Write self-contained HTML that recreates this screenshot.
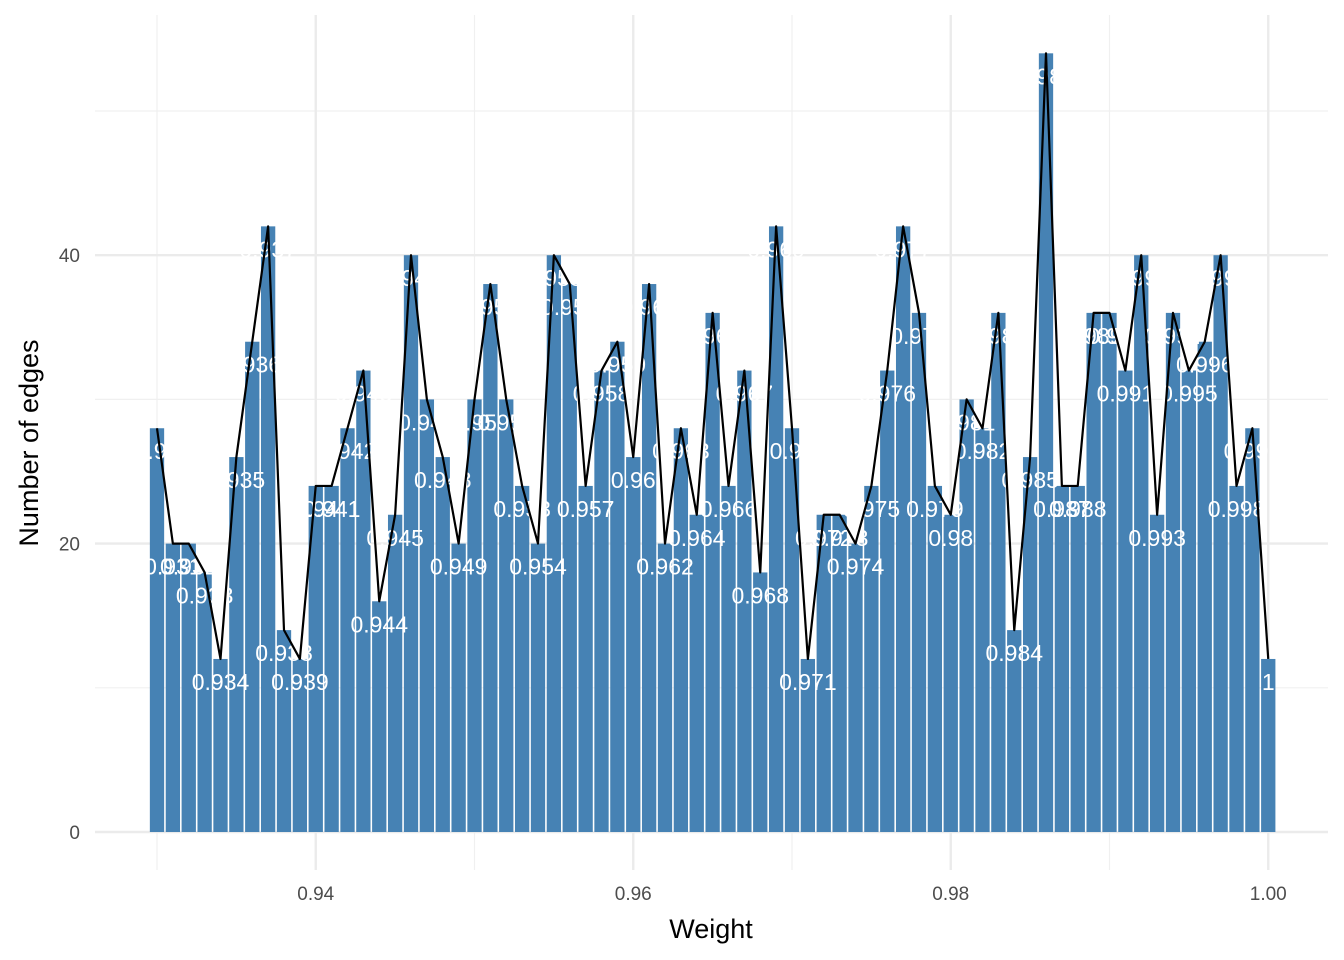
<!DOCTYPE html>
<html><head><meta charset="utf-8"><style>
body{margin:0;background:#fff;}
svg{display:block;font-family:"Liberation Sans","DejaVu Sans",sans-serif;}
</style></head><body>
<svg id="chart" width="1344" height="960" viewBox="0 0 1344 960" xmlns="http://www.w3.org/2000/svg">
<g id="grid"></g>
<g id="bars"></g>
<g id="labels"></g>
<g id="line"></g>
<g id="axes"></g>
<text x="711" y="938" font-size="27" text-anchor="middle" fill="#000">Weight</text>
<text transform="translate(38,443) rotate(-90)" font-size="27" text-anchor="middle" fill="#000">Number of edges</text>
</svg>
<script>
const weights = [];
for (let i = 0; i <= 70; i++) weights.push(+(0.93 + i * 0.001).toFixed(3));
const counts = [28,20,20,18,12,26,34,42,14,12,24,24,28,32,16,22,40,30,26,20,30,38,30,24,20,40,38,24,32,34,26,38,20,28,22,36,24,32,18,42,28,12,22,22,20,24,32,42,36,24,22,30,28,36,14,26,54,24,24,36,36,32,40,22,36,32,34,40,24,28,12];
const xTicks = [0.94,0.96,0.98,1.00];
const xTickLabels = ["0.94","0.96","0.98","1.00"];
const xMinor = [0.93,0.95,0.97,0.99];
const yTicks = [0,20,40];
const yMinor = [10,30,50];

const NS = "http://www.w3.org/2000/svg";
const x = v => 157 + (v - 0.93) * 15875;
const y = v => 832 - v * 14.42;
const PL = 95, PR = 1328, PT = 15, PB = 870;
function mk(tag, attrs, parent){const e=document.createElementNS(NS,tag);for(const k in attrs)e.setAttribute(k,attrs[k]);parent.appendChild(e);return e;}
const grid = document.getElementById('grid');
xMinor.forEach(v=>{const l=mk('line',{x1:x(v),x2:x(v),y1:PT,y2:PB,stroke:'#f0f0f0','stroke-width':1.2},grid);

});
yMinor.forEach(v=>{const l=mk('line',{x1:PL,x2:PR,y1:y(v),y2:y(v),stroke:'#f0f0f0','stroke-width':1.2},grid);

});
xTicks.forEach(v=>{const l=mk('line',{x1:x(v),x2:x(v),y1:PT,y2:PB,stroke:'#ebebeb','stroke-width':2.4},grid);

});
yTicks.forEach(v=>{const l=mk('line',{x1:PL,x2:PR,y1:y(v),y2:y(v),stroke:'#ebebeb','stroke-width':2.4},grid);

});

const bars = document.getElementById('bars');
const labels = document.getElementById('labels');
const bw = 14.3;
weights.forEach((w,i)=>{
  const r=mk('rect',{x:x(w)-bw/2,y:y(counts[i]),width:bw,height:y(0)-y(counts[i]),fill:'#4682b4'},bars);
  
  
});
weights.forEach((w,i)=>{
  const t=mk('text',{x:x(w),y:y(counts[i])+31,'font-size':23,'text-anchor':'middle',fill:'#fff'},labels);
  t.textContent=String(w);
  
  
});
const pts = weights.map((w,i)=>x(w)+','+y(counts[i])).join(' ');
const pl = mk('polyline',{points:pts,fill:'none',stroke:'#000','stroke-width':2.2,'stroke-linejoin':'round'},document.getElementById('line'));



const axes = document.getElementById('axes');
xTicks.forEach((v,i)=>{const t=mk('text',{x:x(v),y:900,'font-size':19,'text-anchor':'middle',fill:'#4d4d4d'},axes);t.textContent=xTickLabels[i];

});
yTicks.forEach(v=>{const t=mk('text',{x:80,y:y(v)+7,'font-size':19,'text-anchor':'end',fill:'#4d4d4d'},axes);t.textContent=String(v);

});
</script>
</body></html>
